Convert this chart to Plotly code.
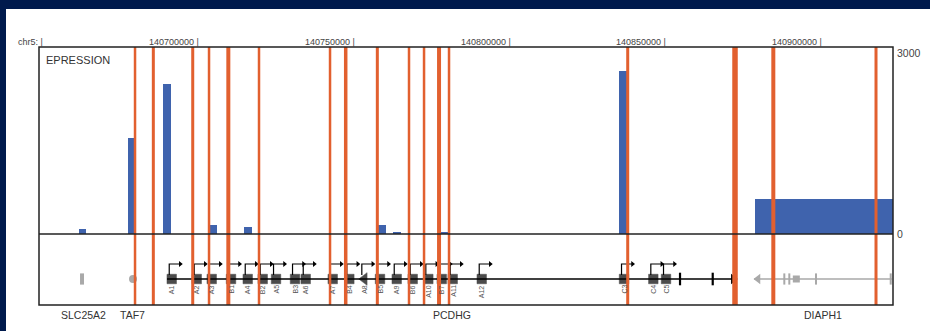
import plotly.graph_objects as go

# ---------------- data ----------------
chrom_label = "chr5: |"
x_range = [140648800, 140923230]
x_ticks = [140700000, 140750000, 140800000, 140850000, 140900000]
x_tick_labels = ["140700000 |", "140750000 |", "140800000 |", "140850000 |", "140900000 |"]

expr_ticks = [3000, 0]
expr_tick_labels = ["3000", "0"]
track_title = "EPRESSION"

# expression bars (genomic centre, width in bp, value)
bar_pos = [140662725, 140678630, 140690000, 140704720, 140715970, 140748200,
           140759030, 140763850, 140769310, 140778950, 140836470, 140901050]
bar_width = [2150, 2250, 2470, 2570, 2570, 2150, 2380, 2570, 2570, 2570, 2380, 44150]
bar_value = [75, 1540, 2405, 150, 105, -20, 145, 35, -20, 30, 2615, 560]

# highlighted positions (vertical red lines) and their stroke widths
mark_pos = [140679660, 140685540, 140698200, 140703440, 140709640, 140719500,
            140742320, 140747360, 140757520, 140767700, 140772530, 140777350,
            140780560, 140837980, 140872460, 140884770, 140917770]
mark_width = [2.5, 3, 3, 2.5, 4, 2.5, 2.5, 3.5, 3, 2.5, 2.5, 4, 2.5, 3, 5.5, 4, 3]

# PCDHG cluster
exon_names = ["A1", "A2", "A3", "B1", "A4", "B2", "A5", "B3", "A6", "A7", "B4",
              "A8", "B5", "A9", "B6", "A10", "B7", "A11", "A12", "C3", "C4", "C5"]
exon_pos = [140691452, 140699486, 140704306, 140710508, 140715874, 140720694,
            140724968, 140731074, 140734512, 140743188, 140748522, 140753342,
            140758387, 140763754, 140768895, 140773908, 140778214, 140781749,
            140791068, 140836795, 140846210, 140850291]
pcdhg_small_exons = [140854790, 140865297]
pcdhg_end_exon = [140871917]
pcdhg_span = [140689942, 140872460]

# neighbouring genes (grey)
slc25a2_pos = [140662628]
taf7_pos = [140679017]
diaph1_span = [140878570, 140922914]
diaph1_first_exon = [140879856]
diaph1_small_exons = [140888305, 140889911, 140898491, 140922497]
diaph1_block_exon = [140892161]

gene_names = ["SLC25A2", "TAF7", "PCDHG", "DIAPH1"]
gene_label_pos = [140662950, 140678856, 140781428, 140900740]

# ---------------- layout geometry ----------------
W, H = 930, 331
ML, MR, MT, MB = 39, 37, 47, 26
PW, PH = W - ML - MR, H - MT - MB
BP_PER_PX = (x_range[1] - x_range[0]) / PW

NAVY = "#001A4D"
RED = "#E2602F"
BLUE = "#3F63AD"
LIGHT_BLUE = "#9DB0D8"
GREY = "#A9A9A9"
FONT = "Liberation Sans, Arial, sans-serif"

fig = go.Figure()

# expression bars
fig.add_trace(go.Bar(
    x=bar_pos, y=bar_value, width=bar_width,
    marker=dict(color=[BLUE if v > 0 else LIGHT_BLUE for v in bar_value], line_width=0),
    yaxis="y", hoverinfo="skip", showlegend=False))

# PCDHG backbone
fig.add_trace(go.Scatter(x=pcdhg_span, y=[0, 0], mode="lines",
                         line=dict(color="black", width=1.5), yaxis="y2",
                         hoverinfo="skip", showlegend=False))
# DIAPH1 backbone
fig.add_trace(go.Scatter(x=diaph1_span, y=[0, 0], mode="lines",
                         line=dict(color=GREY, width=1.5), yaxis="y2",
                         hoverinfo="skip", showlegend=False))

# TSS arrows for PCDHG exons
ax, ay = [], []
for p in exon_pos:
    x0 = p - 2.5 * BP_PER_PX
    x1 = p + 8 * BP_PER_PX
    ax += [x0, x0, x1, None]
    ay += [4, 15, 15, None]
fig.add_trace(go.Scatter(x=ax, y=ay, mode="lines",
                         line=dict(color="black", width=1.2), yaxis="y2",
                         hoverinfo="skip", showlegend=False))
fig.add_trace(go.Scatter(x=[p + 8.5 * BP_PER_PX for p in exon_pos], y=[15] * len(exon_pos),
                         mode="markers", marker=dict(symbol="triangle-right", size=5, color="black"),
                         yaxis="y2", hoverinfo="skip", showlegend=False))

# PCDHG exons
fig.add_trace(go.Scatter(x=exon_pos, y=[0] * len(exon_pos), mode="markers",
                         marker=dict(symbol=["triangle-left" if n == "A8" else "square" for n in exon_names],
                                     size=[11 if n == "A8" else 9.5 for n in exon_names],
                                     color="black", line=dict(color="black", width=0.5)),
                         yaxis="y2", hoverinfo="skip", showlegend=False))
fig.add_trace(go.Scatter(x=pcdhg_small_exons, y=[0] * len(pcdhg_small_exons), mode="markers",
                         marker=dict(symbol="line-ns", size=9, line=dict(color="black", width=2.2)),
                         yaxis="y2", hoverinfo="skip", showlegend=False))
fig.add_trace(go.Scatter(x=pcdhg_end_exon, y=[0], mode="markers",
                         marker=dict(symbol="triangle-right", size=9, color="black"),
                         yaxis="y2", hoverinfo="skip", showlegend=False))

# grey neighbouring genes
fig.add_trace(go.Scatter(x=slc25a2_pos, y=[0], mode="markers",
                         marker=dict(symbol="line-ns", size=8, line=dict(color=GREY, width=4)),
                         yaxis="y2", hoverinfo="skip", showlegend=False))
fig.add_trace(go.Scatter(x=taf7_pos, y=[0], mode="markers",
                         marker=dict(symbol="circle", size=8, color=GREY),
                         yaxis="y2", hoverinfo="skip", showlegend=False))
fig.add_trace(go.Scatter(x=diaph1_first_exon, y=[0], mode="markers",
                         marker=dict(symbol="triangle-left", size=9, color=GREY),
                         yaxis="y2", hoverinfo="skip", showlegend=False))
fig.add_trace(go.Scatter(x=diaph1_small_exons, y=[0] * len(diaph1_small_exons), mode="markers",
                         marker=dict(symbol="line-ns", size=8, line=dict(color=GREY, width=2)),
                         yaxis="y2", hoverinfo="skip", showlegend=False))
fig.add_trace(go.Scatter(x=diaph1_block_exon, y=[0], mode="markers",
                         marker=dict(symbol="square", size=7, color=GREY),
                         yaxis="y2", hoverinfo="skip", showlegend=False))

shapes = []
# navy frame of the slide (top band and left band)
shapes.append(dict(type="rect", xref="paper", yref="paper",
                   x0=-ML / PW, x1=(W - ML) / PW, y0=(PH + MT - 9) / PH, y1=(PH + MT) / PH,
                   fillcolor=NAVY, line_width=0, layer="below"))
shapes.append(dict(type="rect", xref="paper", yref="paper",
                   x0=-ML / PW, x1=(6 - ML) / PW, y0=-MB / PH, y1=(PH + MT) / PH,
                   fillcolor=NAVY, line_width=0, layer="below"))
# red marker lines
for p, w in zip(mark_pos, mark_width):
    shapes.append(dict(type="line", xref="x", yref="paper", x0=p, x1=p, y0=0, y1=1,
                       line=dict(color=RED, width=w), layer="above"))
# zero line / panel separator
shapes.append(dict(type="line", xref="paper", yref="y", x0=0, x1=1, y0=0, y1=0,
                   line=dict(color="#222222", width=1.5), layer="above"))
# outer frame
shapes.append(dict(type="rect", xref="paper", yref="paper", x0=0, x1=1, y0=0, y1=1,
                   line=dict(color="#222222", width=1.5), layer="above"))

ann = []
ann.append(dict(text=chrom_label, xref="paper", yref="paper", x=0, y=1, xanchor="right",
                yanchor="middle", xshift=6, yshift=5, showarrow=False,
                font=dict(family=FONT, size=9, color="#444444")))
for t, lab in zip(x_ticks, x_tick_labels):
    ann.append(dict(text=lab, xref="x", yref="paper", x=t, y=1, xanchor="right",
                    yanchor="middle", xshift=3, yshift=5, showarrow=False,
                    font=dict(family=FONT, size=9, color="#444444")))
for v, lab in zip(expr_ticks, expr_tick_labels):
    ann.append(dict(text=lab, xref="paper", yref="y", x=1, y=v, xanchor="left",
                    yanchor="top" if v > 0 else "middle", xshift=2, yshift=2 if v > 0 else 0,
                    showarrow=False, font=dict(family=FONT, size=10.5, color="#444444")))
ann.append(dict(text=track_title, xref="paper", yref="paper", x=0, y=1, xanchor="left",
                yanchor="middle", xshift=5, yshift=-13, showarrow=False,
                font=dict(family=FONT, size=11, color="#333333")))
for n, p in zip(exon_names, exon_pos):
    ann.append(dict(text=n, xref="x", yref="y2", x=p, y=-5, xanchor="center", yanchor="top",
                    textangle=-90, showarrow=False, borderpad=0,
                    font=dict(family=FONT, size=7, color="#555555")))
for n, p in zip(gene_names, gene_label_pos):
    ann.append(dict(text=n, xref="x", yref="paper", x=p, y=0, xanchor="center", yanchor="middle",
                    yshift=-10, showarrow=False, font=dict(family=FONT, size=10.5, color="#333333")))

fig.update_layout(
    width=W, height=H,
    margin=dict(l=ML, r=MR, t=MT, b=MB, pad=0),
    paper_bgcolor="white", plot_bgcolor="white",
    showlegend=False, bargap=0,
    xaxis=dict(range=x_range, visible=False, fixedrange=True),
    yaxis=dict(domain=[(PH - 191) / PH, 1], range=[-64, 3000], visible=False, fixedrange=True),
    yaxis2=dict(domain=[0, 71 / PH], range=[-26, 45], visible=False, anchor="x", fixedrange=True),
    shapes=shapes, annotations=ann,
    font=dict(family=FONT),
)

# the page's default 8px body margin would offset the figure; remove it
fig.write_html("out.html", config={"displayModeBar": False},
               post_script="document.body.style.margin='0px';")
